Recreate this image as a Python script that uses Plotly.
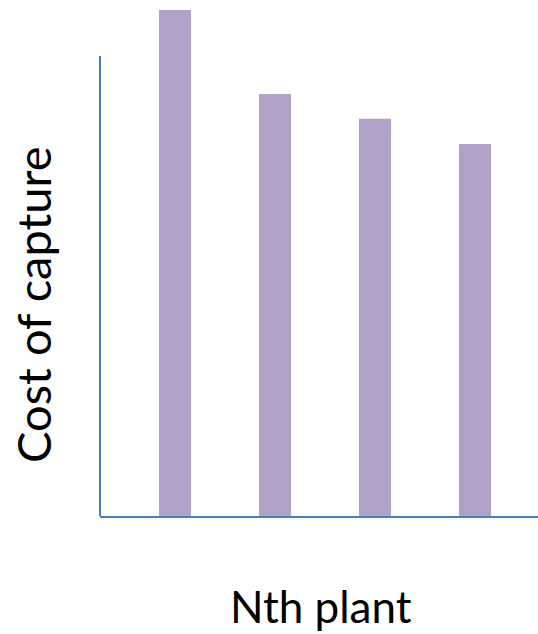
import plotly.graph_objects as go

categories = ["1", "2", "3", "4"]
cost_values = [1.0, 0.834, 0.785, 0.735]

bar_color = "#B2A2C7"
axis_color = "#4A7EBB"

fig = go.Figure()
fig.add_trace(go.Bar(x=categories, y=cost_values, marker=dict(color=bar_color, line=dict(width=0))))

fig.update_layout(
    width=538, height=634,
    margin=dict(l=100, r=0, t=10, b=118),
    plot_bgcolor="white", paper_bgcolor="white",
    bargap=0.68,
    showlegend=False,
    xaxis=dict(type="category", range=[-0.75, 3.63], showline=True, linecolor=axis_color,
               linewidth=2, showticklabels=False, ticks="", showgrid=False, zeroline=False),
    yaxis=dict(range=[0, 1.0], showline=False, showticklabels=False, ticks="",
               showgrid=False, zeroline=False),
    font=dict(family="Lato", color="black"),
)
fig.add_shape(type="line", xref="paper", yref="paper", x0=0, x1=0, y0=0, y1=0.909,
              line=dict(color=axis_color, width=2))
fig.add_annotation(text="Nth plant", xref="paper", yref="paper", x=0.505, y=-0.178,
                   showarrow=False, font=dict(size=44), xanchor="center", yanchor="middle")
fig.add_annotation(text="Cost of capture", xref="paper", yref="paper", x=-0.152, y=0.418,
                   showarrow=False, font=dict(size=47), textangle=-90,
                   xanchor="center", yanchor="middle")
fig.write_html("out.html")
